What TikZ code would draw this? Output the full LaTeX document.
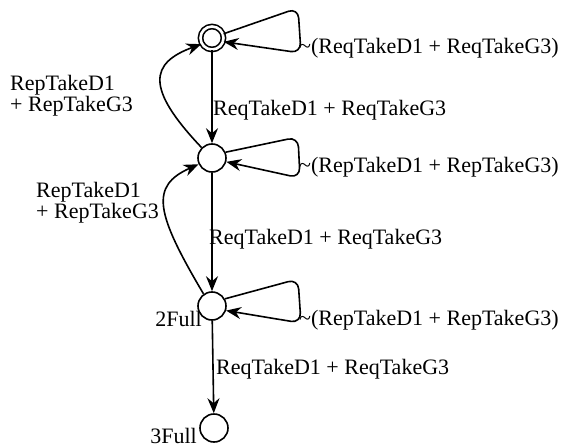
\documentclass[tikz,border=0pt]{standalone}
\usepackage{fontspec}
\setmainfont{Liberation Serif}
\usetikzlibrary{arrows.meta}

\begin{document}
\begin{tikzpicture}[x=1pt, y=-1pt, >={Stealth[length=15pt,width=12pt,inset=5pt]},
state/.style={circle, draw, line width=1.6pt, minimum size=28pt, inner sep=0pt},
accept/.style={state, double, double distance=2.6pt, minimum size=23pt},
lbl/.style={inner sep=0pt, font=\fontsize{22}{21}\selectfont, align=left},
edge/.style={line width=1.6pt, ->},
]
\useasboundingbox (0,0) rectangle (576,447);
%states
\node (q0) [accept] at (212,38) {};
\node (q1) [state] at (212,158) {};
\node (q2) [state] at (212,306) {};
\node (q3) [state] at (214,428) {};
\node (n2) [lbl, anchor=base east] at (202,326) {2Full};
\node (n3) [lbl, anchor=base east] at (197,443) {3Full};
%labels
\node (t0) [lbl, anchor=base west] at (299,53) {\textasciitilde(ReqTakeD1 + ReqTakeG3)};
\node (t10) [lbl, anchor=west] at (10,95.5) {RepTakeD1\\+ RepTakeG3};
\node (t01) [lbl, anchor=base west] at (213,115) {ReqTakeD1 + ReqTakeG3};
\node (t1) [lbl, anchor=base west] at (299,172) {\textasciitilde(RepTakeD1 + RepTakeG3)};
\node (t21) [lbl, anchor=west] at (36,202.5) {RepTakeD1\\+ RepTakeG3};
\node (t12) [lbl, anchor=base west] at (209,244) {ReqTakeD1 + ReqTakeG3};
\node (t2) [lbl, anchor=base west] at (299,325) {\textasciitilde(RepTakeD1 + RepTakeG3)};
\node (t23) [lbl, anchor=base west] at (216,374) {ReqTakeD1 + ReqTakeG3};
%transitions
\draw [edge] (q0)--(q1);
\draw [edge] (q1)--(q2);
\draw [edge] (q2)--(q3);
\draw [edge] (q1.135) .. controls (145,88) and (150,63) .. (q0.210);
\draw [edge] (q2.125) .. controls (155,212) and (150,186) .. (q1.205);
%self loops
\draw [edge, rounded corners=10pt] (q0.20)--(298,8)--(301,53)--(q0.-18);
\draw [edge, rounded corners=10pt] (q1.23)--(298,137)--(300,178)--(q1.-15);
\draw [edge, rounded corners=10pt] (q2.29)--(298,279)--(301,323)--(q2.-18);
\end{tikzpicture}
\end{document}
